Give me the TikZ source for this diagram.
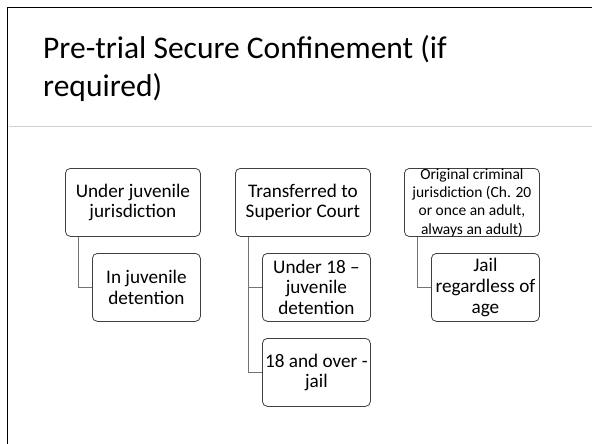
\documentclass[tikz,border=0pt]{standalone}
\usepackage{fontspec}
\setmainfont{Carlito}
\begin{document}
\begin{tikzpicture}[x=1pt,y=-1pt,
  frameline/.style={line width=1.6pt,black},
  rule/.style={line width=0.8pt,black!18},
  parentbox/.style={draw=black!75,line width=0.8pt,rounded corners=5pt,fill=white,
    anchor=north west,minimum width=135pt,minimum height=68pt,inner sep=0pt,
    align=center,font=\fontsize{19.2}{20.6}\selectfont},
  childbox/.style={parentbox,minimum width=108pt},
  link/.style={draw=black!55,line width=0.8pt},
  titletext/.style={anchor=north west,inner sep=0pt,align=left,
    font=\fontsize{31.5}{38.5}\selectfont}]
\useasboundingbox (0,0) rectangle (592,444);
\fill[white] (0,0) rectangle (592,444);

% slide frame and title rule
\coordinate (fbl) at (7.5,444);
\coordinate (ftl) at (7.5,7.5);
\coordinate (ftr) at (592,7.5);
\draw[frameline] (fbl) -- (ftl) -- (ftr);
\coordinate (rl) at (8.5,126.5);
\coordinate (rr) at (592,126.5);
\draw[rule] (rl) -- (rr);

% title
\node[titletext] (title) at (43,35) {Pre-trial Secure Confinement (if\\required)};

% first column
\node[parentbox] (juv) at (65,168) {Under juvenile\\jurisdiction};
\node[childbox] (juvdet) at (92,253) {In juvenile\\detention};

% second column
\node[parentbox] (sup) at (235,168) {Transferred to\\Superior Court};
\node[childbox] (under) at (262,253) {Under 18 –\\juvenile\\detention};
\node[childbox] (over) at (262,338) {18 and over -\\jail};

% third column
\node[parentbox,font=\fontsize{15.5}{18.3}\selectfont] (orig) at (404,168)
  {Original criminal\\jurisdiction (Ch. 20\\or once an adult,\\always an adult)};
\node[childbox] (jail) at (431,253) {Jail\\regardless of\\age};

% connectors
\draw[link] ([xshift=13pt]juv.south west) |- (juvdet.west);
\draw[link] ([xshift=13pt]sup.south west) |- (under.west);
\draw[link] ([xshift=13pt]sup.south west) |- (over.west);
\draw[link] ([xshift=13pt]orig.south west) |- (jail.west);
\end{tikzpicture}
\end{document}
